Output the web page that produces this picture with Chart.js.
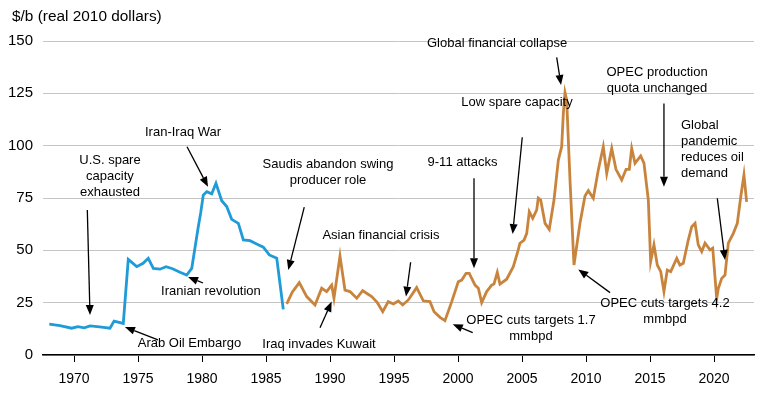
<!DOCTYPE html>
<html>
<head>
<meta charset="utf-8">
<script src="https://cdn.jsdelivr.net/npm/chart.js@4/dist/chart.umd.min.js"></script>
<style>
  html, body { margin: 0; padding: 0; background: #fff; }
  #wrap { width: 766px; height: 395px; }
</style>
</head>
<body>
<div id="wrap"><canvas id="oilChart"></canvas></div>
<script>
// real oil price, $/b in 2010 dollars
const blueYears = [1968.07, 1968.9, 1969.82, 1970.3, 1970.8, 1971.25, 1972.0, 1972.81, 1973.13, 1973.85,
    1974.24, 1974.9, 1975.4, 1975.8, 1976.2, 1976.72, 1977.19, 1977.7, 1978.28, 1978.8,
    1979.2, 1979.71, 1979.9, 1980.1, 1980.37, 1980.76, 1981.09, 1981.54, 1981.93, 1982.32,
    1982.84, 1983.23, 1983.75, 1984.27, 1984.79, 1985.26, 1985.84, 1986.35];
const blueValues = [14.7, 14.0, 12.8, 13.5, 13.0, 13.9, 13.4, 12.8, 16.2, 15.1,
    45.7, 42.2, 43.8, 46.2, 41.4, 41.0, 42.2, 41.2, 39.5, 38.2,
    41.4, 61.3, 68.0, 76.4, 78.0, 77.0, 82.0, 73.7, 70.9, 64.8,
    62.9, 55.0, 54.6, 53.0, 51.5, 47.8, 46.2, 21.8];

const orangeYears = [1986.62, 1987.05, 1987.6, 1988.18, 1988.83, 1989.35, 1989.74, 1990.13, 1990.31, 1990.78,
    1991.17, 1991.56, 1992.09, 1992.55, 1993.26, 1993.7, 1994.12, 1994.55, 1994.95, 1995.34,
    1995.68, 1996.12, 1996.77, 1997.29, 1997.81, 1998.13, 1998.6, 1998.98, 1999.51, 2000.02,
    2000.29, 2000.63, 2000.88, 2001.33, 2001.59, 2001.85, 2002.24, 2002.63, 2002.81, 2003.07,
    2003.28, 2003.8, 2004.32, 2004.63, 2004.84, 2005.16, 2005.37, 2005.57, 2005.84, 2006.15,
    2006.27, 2006.46, 2006.8, 2007.13, 2007.5, 2007.84, 2008.1, 2008.23, 2008.36, 2008.49,
    2008.75, 2009.06, 2009.53, 2009.92, 2010.18, 2010.57, 2010.96, 2011.35, 2011.62, 2012.01,
    2012.34, 2012.79, 2013.13, 2013.38, 2013.57, 2013.83, 2014.27, 2014.53, 2014.87, 2015.05,
    2015.31, 2015.57, 2015.84, 2016.09, 2016.35, 2016.62, 2017.09, 2017.34, 2017.6, 2017.99,
    2018.26, 2018.52, 2018.77, 2019.04, 2019.3, 2019.69, 2019.9, 2020.21, 2020.34, 2020.6,
    2020.86, 2021.12, 2021.51, 2021.82, 2022.09, 2022.34, 2022.55];
const orangeValues = [24.4, 30.0, 34.6, 27.9, 23.9, 31.9, 30.3, 33.4, 27.1, 47.3,
    31.0, 30.3, 27.1, 30.7, 27.9, 25.0, 20.7, 25.5, 24.4, 25.8,
    23.9, 26.3, 32.2, 25.9, 25.5, 20.7, 18.0, 16.4, 25.5, 35.0,
    35.8, 39.0, 39.0, 33.4, 31.9, 25.0, 30.3, 33.4, 33.9, 39.5,
    33.9, 36.2, 42.2, 48.6, 53.4, 54.9, 58.1, 68.5, 65.3, 69.3,
    74.9, 74.0, 62.9, 60.0, 74.0, 93.2, 99.5, 115.5, 125.3, 121.8,
    83.6, 43.0, 62.9, 76.0, 78.5, 74.9, 88.4, 99.5, 86.8, 98.7,
    88.7, 83.6, 88.7, 88.7, 98.7, 91.6, 95.1, 91.6, 74.0, 44.6,
    52.6, 43.0, 39.8, 30.3, 40.6, 39.8, 46.2, 43.0, 43.8, 54.9,
    61.3, 62.9, 52.6, 49.4, 53.4, 50.2, 51.0, 27.0, 31.9, 36.6,
    38.2, 53.4, 58.1, 62.9, 75.6, 86.0, 73.2];

const xTickYears = [1970, 1975, 1980, 1985, 1990, 1995, 2000, 2005, 2010, 2015, 2020];
const yTicks = [0, 25, 50, 75, 100, 125, 150];

// event notes: text anchor and arrow (tail -> head) in data units
const notes = [
    { lines: ['U.S. spare', 'capacity', 'exhausted'], at: [1972.81, 92.8], from: [1971.04, 69.3], to: [1971.25, 19.1] },
    { lines: ['Arab Oil Embargo'], at: [1979.02, 5.3], from: [1976.56, 7.2], to: [1973.98, 13.4] },
    { lines: ['Iranian revolution'], at: [1980.7, 30.6], from: [1980.08, 34.4], to: [1978.91, 37.3] },
    { lines: ['Iran-Iraq War'], at: [1978.52, 106.2], from: [1978.83, 99.5], to: [1980.47, 80.4] },
    { lines: ['Saudis abandon swing', 'producer role'], at: [1989.84, 91.1], from: [1987.99, 70.6], to: [1986.74, 40.6] },
    { lines: ['Asian financial crisis'], at: [1993.98, 57.0], from: [1996.30, 44.3], to: [1995.94, 27.9] },
    { lines: ['Iraq invades Kuwait'], at: [1989.14, 5.1], from: [1989.22, 13.0], to: [1990.13, 25.5] },
    { lines: ['9-11 attacks'], at: [2000.35, 92.1], from: [2001.25, 84.4], to: [2001.25, 41.4] },
    { lines: ['OPEC cuts targets 1.7', 'mmbpd'], at: [2005.70, 16.4], from: [2001.15, 10.7], to: [1999.59, 14.7] },
    { lines: ['Low spare capacity'], at: [2004.61, 120.5], from: [2005.02, 104.0], to: [2004.27, 57.8] },
    { lines: ['Global financial collapse'], at: [2003.05, 148.7], from: [2007.71, 142.2], to: [2008.05, 129.0] },
    { lines: ['OPEC production', 'quota unchanged'], at: [2015.55, 134.9], from: [2016.09, 120.2], to: [2016.09, 80.4] },
    { lines: ['Global', 'pandemic', 'reduces oil', 'demand'], at: [2017.42, 109.5], align: 'left', from: [2020.26, 74.9], to: [2020.86, 45.4] },
    { lines: ['OPEC cuts targets 4.2', 'mmbpd'], at: [2016.17, 24.7], from: [2011.88, 29.8], to: [2009.40, 40.9] }
];

const FONT = '"Liberation Sans", Arial, sans-serif';

const notesPlugin = {
    id: 'notes',
    afterDatasetsDraw(chart) {
        const ctx = chart.ctx;
        const xs = chart.scales.x, ys = chart.scales.y;
        ctx.save();
        ctx.font = '13px ' + FONT;
        ctx.fillStyle = '#000';
        ctx.strokeStyle = '#000';
        ctx.textBaseline = 'middle';
        notes.forEach(n => {
            const tx = xs.getPixelForValue(n.at[0]);
            const ty = ys.getPixelForValue(n.at[1]);
            ctx.textAlign = n.align || 'center';
            n.lines.forEach((t, i) => ctx.fillText(t, tx, ty + i * 16));

            const x1 = xs.getPixelForValue(n.from[0]), y1 = ys.getPixelForValue(n.from[1]);
            const x2 = xs.getPixelForValue(n.to[0]), y2 = ys.getPixelForValue(n.to[1]);
            const ang = Math.atan2(y2 - y1, x2 - x1);
            const headLen = 10, headW = 4;
            const bx = x2 - headLen * Math.cos(ang), by = y2 - headLen * Math.sin(ang);
            ctx.lineWidth = 1.3;
            ctx.beginPath();
            ctx.moveTo(x1, y1);
            ctx.lineTo(bx, by);
            ctx.stroke();
            ctx.beginPath();
            ctx.moveTo(x2, y2);
            ctx.lineTo(bx + headW * Math.sin(ang), by - headW * Math.cos(ang));
            ctx.lineTo(bx - headW * Math.sin(ang), by + headW * Math.cos(ang));
            ctx.closePath();
            ctx.fill();
        });
        ctx.restore();
    },
    afterDraw(chart) {
        const ctx = chart.ctx;
        ctx.save();
        ctx.font = '15.4px ' + FONT;
        ctx.fillStyle = '#000';
        ctx.textAlign = 'left';
        ctx.textBaseline = 'middle';
        ctx.fillText('$/b (real 2010 dollars)', 12, 17);
        ctx.restore();
    }
};

function toPoints(xsArr, ysArr) {
    return xsArr.map((x, i) => ({ x: x, y: ysArr[i] }));
}

document.addEventListener('DOMContentLoaded', () => {
    const ctx = document.getElementById('oilChart').getContext('2d');
    new Chart(ctx, {
        type: 'line',
        data: {
            datasets: [{
                label: 'Pre-1986',
                data: toPoints(blueYears, blueValues),
                borderColor: '#1f9bd7',
                borderWidth: 2.8,
                pointRadius: 0,
                tension: 0,
                fill: false
            }, {
                label: 'Post-1986',
                data: toPoints(orangeYears, orangeValues),
                borderColor: '#c8843c',
                borderWidth: 2.8,
                pointRadius: 0,
                tension: 0,
                fill: false
            }]
        },
        options: {
            responsive: true,
            maintainAspectRatio: false,
            animation: false,
            layout: { padding: { top: 41, right: 12, bottom: 0, left: 0 } },
            plugins: {
                legend: { display: false },
                tooltip: { enabled: false }
            },
            scales: {
                x: {
                    type: 'linear',
                    min: 1967.578,
                    max: 2023.125,
                    afterBuildTicks: scale => { scale.ticks = xTickYears.map(v => ({ value: v })); },
                    afterFit: scale => { scale.height = 40; },
                    ticks: {
                        autoSkip: false,
                        maxRotation: 0,
                        padding: 9,
                        color: '#000',
                        font: { family: FONT, size: 14 },
                        callback: v => String(v)
                    },
                    grid: {
                        drawOnChartArea: false,
                        drawTicks: true,
                        tickLength: 7,
                        tickColor: '#000',
                        tickWidth: 1
                    },
                    border: { display: true, color: '#000', width: 1.5 }
                },
                y: {
                    min: 0,
                    max: 150,
                    afterBuildTicks: scale => { scale.ticks = yTicks.map(v => ({ value: v })); },
                    afterFit: scale => { scale.width = 43; },
                    ticks: {
                        padding: 10,
                        color: '#000',
                        font: { family: FONT, size: 15 }
                    },
                    grid: {
                        color: '#c4c4c4',
                        lineWidth: 1,
                        drawTicks: false
                    },
                    border: { display: false }
                }
            }
        },
        plugins: [notesPlugin]
    });
});
</script>
</body>
</html>
